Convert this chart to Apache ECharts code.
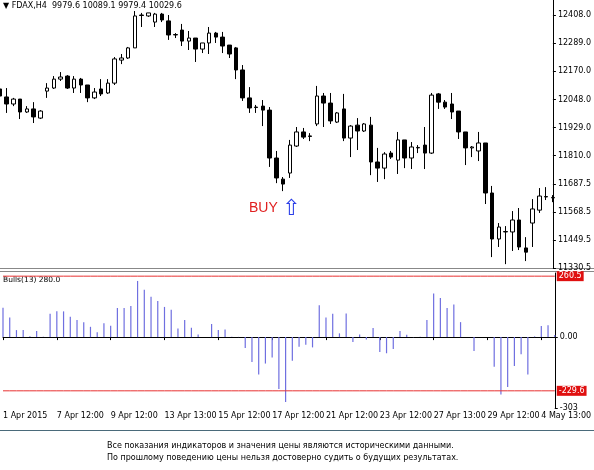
<!DOCTYPE html>
<html><head><meta charset="utf-8">
<script src="https://cdn.jsdelivr.net/npm/echarts@6/dist/echarts.min.js"></script>
<style>html,body{margin:0;padding:0;background:#fff}#c{width:594px;height:470px}</style>
</head><body><div id="c"></div>
<script>
// OHLC per bar (open, close, low, high)
const opens  = [12093,12059,12029,12050,11995,12008,11969,12084,12097,12135,12148,12097,12135,12110,12055,12093,12076,12118,12216,12225,12268,12408,12404,12378,12412,12383,12323,12344,12297,12310,12263,12289,12331,12314,12280,12268,12174,12055,12016,12020,12003,11799,11709,11735,11850,11910,11893,11944,12063,12033,11952,12008,11884,11939,11914,11939,11782,11756,11820,11790,11876,11799,11842,11854,11820,12072,12037,12029,11999,11910,11842,11829,11863,11650,11454,11484,11484,11535,11416,11522,11577,11633,11629];
const closes = [12063,12029,12050,11995,12008,11974,11999,12097,12135,12144,12097,12135,12110,12055,12080,12072,12118,12221,12225,12268,12404,12406,12417,12412,12387,12323,12325,12297,12310,12263,12289,12331,12314,12276,12242,12174,12055,12012,12014,12003,11799,11714,11688,11854,11910,11888,11891,12063,12033,11957,11991,11884,11935,11914,11944,11782,11756,11816,11803,11876,11799,11846,11844,11820,12067,12037,12016,11995,11910,11842,11846,11863,11650,11454,11505,11486,11535,11420,11398,11582,11637,11635,11631];
const lows   = [12046,11991,12020,11965,11991,11948,11965,12055,12093,12127,12093,12076,12076,12037,12050,12063,12072,12110,12199,12221,12268,12357,12400,12357,12378,12302,12310,12276,12259,12208,12246,12242,12289,12246,12225,12135,12042,11991,11991,11935,11761,11692,11658,11714,11846,11880,11871,11935,11931,11944,11948,11871,11803,11833,11910,11726,11697,11709,11795,11731,11756,11752,11820,11752,11816,12008,12008,11965,11880,11769,11803,11786,11603,11377,11420,11347,11403,11407,11360,11420,11565,11620,11611];
const highs  = [12140,12097,12055,12050,12020,12037,12003,12118,12148,12165,12152,12148,12140,12110,12097,12135,12135,12229,12242,12272,12425,12417,12417,12417,12417,12408,12331,12370,12340,12310,12289,12357,12336,12336,12280,12272,12195,12101,12025,12046,12016,11829,11718,11876,11931,11927,11905,12106,12076,12076,11995,12072,11939,11969,11948,11974,11842,11824,11829,11910,11876,11867,11854,11931,12076,12076,12046,12076,11999,11910,11850,11910,11863,11680,11522,11509,11573,11586,11462,11624,11671,11675,11641];
// Bulls Power (13)
const bulls = [126,84,30,30,4,26,1,100,110,110,87,73,63,44,21,59,49,124,124,133,240,202,172,154,129,117,37,73,40,11,0,56,30,33,1,1,-47,-106,-160,-113,-87,-222,-277,-101,-41,-33,-44,136,84,100,16,101,-21,11,-10,39,-64,-69,-51,26,10,-1,1,73,186,167,124,139,64,0,-59,0,0,-127,-245,-213,-123,-73,-160,3,47,51,9];
const tickLabels = ['1 Apr 2015','7 Apr 12:00','9 Apr 12:00','13 Apr 13:00','15 Apr 12:00','17 Apr 12:00','21 Apr 12:00','23 Apr 12:00','27 Apr 13:00','29 Apr 12:00','4 May 13:00'];
const priceTicks = [12408.0,12289.0,12170.0,12048.0,11929.0,11810.0,11687.5,11568.5,11449.5,11330.5];
const levels = [260.5,-229.6];

const cats = opens.map((_, i) => String(i));
const candle = opens.map((o, i) => [o, closes[i], lows[i], highs[i]]);
const F = 'DejaVu Sans';
const levelSeries = levels.map(v => ({
  type: 'line', xAxisIndex: 1, yAxisIndex: 1, data: cats.map(() => v), symbol: 'none', silent: true, z: 5,
  lineStyle: {color: '#e83030', width: 1, type: 'solid'},
  endLabel: {show: true, formatter: () => v.toFixed(1), color: '#fff', backgroundColor: '#e01010',
    fontFamily: F, fontSize: 8, padding: [1, 2], distance: 2}
}));
const chart = echarts.init(document.getElementById('c'));
chart.setOption({
  animation: false,
  backgroundColor: '#fff',
  grid: [
    {left: 0, right: 37, top: 0, height: 268, containLabel: false},
    {left: 0, right: 37, top: 273, height: 135, containLabel: false}
  ],
  xAxis: [
    {type: 'category', data: cats, boundaryGap: false, gridIndex: 0,
     axisLine: {show: false}, axisTick: {show: false}, axisLabel: {show: false}},
    {type: 'category', data: cats, boundaryGap: false, gridIndex: 1,
     axisLine: {lineStyle: {color: '#000', width: 1}},
     axisTick: {show: true, interval: (i) => i % 8 === 0, length: 3, lineStyle: {color: '#000'}},
     axisLabel: {interval: (i) => i % 8 === 0, formatter: (v, i) => tickLabels[i / 8] || '',
       hideOverlap: false, showMaxLabel: true, showMinLabel: true,
       align: 'left', fontFamily: F, fontSize: 8, color: '#000', margin: 4}}
  ],
  yAxis: [
    {type: 'value', gridIndex: 0, position: 'right', min: 11330.5, max: 12472, scale: true,
     splitLine: {show: false}, axisLine: {show: true, lineStyle: {color: '#000'}},
     axisTick: {show: true, customValues: priceTicks, length: 3, lineStyle: {color: '#000'}},
     axisLabel: {customValues: priceTicks, formatter: v => v.toFixed(1), fontFamily: F, fontSize: 8, color: '#000', margin: 5}},
    {type: 'value', gridIndex: 1, position: 'right', min: -303, max: 274,
     splitLine: {show: false}, axisLine: {show: true, lineStyle: {color: '#000'}},
     axisTick: {show: true, customValues: [0, -303], length: 3, lineStyle: {color: '#000'}},
     axisLabel: {customValues: [0, -303], formatter: v => v === 0 ? '0.00' : String(v), fontFamily: F, fontSize: 8, color: '#000', margin: 5}}
  ],
  series: [
    {type: 'candlestick', data: candle, xAxisIndex: 0, yAxisIndex: 0, barWidth: 4,
     itemStyle: {color: '#fff', color0: '#000', borderColor: '#000', borderColor0: '#000', borderWidth: 1}},
    {type: 'bar', data: bulls, xAxisIndex: 1, yAxisIndex: 1, barWidth: 1.2,
     itemStyle: {color: '#6f6fe0'}},
    ...levelSeries
  ],
  graphic: [
    {type: 'text', left: 3, top: 2, style: {text: '\u25BC FDAX,H4  9979.6 10089.1 9979.4 10029.6', font: '8px "DejaVu Sans"', fill: '#000'}},
    {type: 'rect', shape: {x: 0, y: 268, width: 594, height: 1}, style: {fill: '#888'}},
    {type: 'rect', shape: {x: 0, y: 271, width: 594, height: 1}, style: {fill: '#888'}},
    {type: 'text', left: 3, top: 276, style: {text: 'Bulls(13) 280.0', font: '7.5px "DejaVu Sans"', fill: '#000'}},
    {type: 'text', left: 249, top: 201, style: {text: 'BUY', font: '14px "Liberation Sans"', fill: '#e02020'}},
    {type: 'text', left: 282, top: 198, style: {text: '\u21E7', font: '22px "DejaVu Sans"', fill: '#2a3ee8'}},
    {type: 'rect', shape: {x: 0, y: 430, width: 594, height: 1}, style: {fill: '#4a6a7a'}},
    {type: 'text', left: 107, top: 440, style: {text: 'Все показания индикаторов и значения цены являются историческими данными.\nПо прошлому поведению цены нельзя достоверно судить о будущих результатах.', font: '8px "DejaVu Sans"', fill: '#000', lineHeight: 12}}
  ]
});
</script></body></html>
